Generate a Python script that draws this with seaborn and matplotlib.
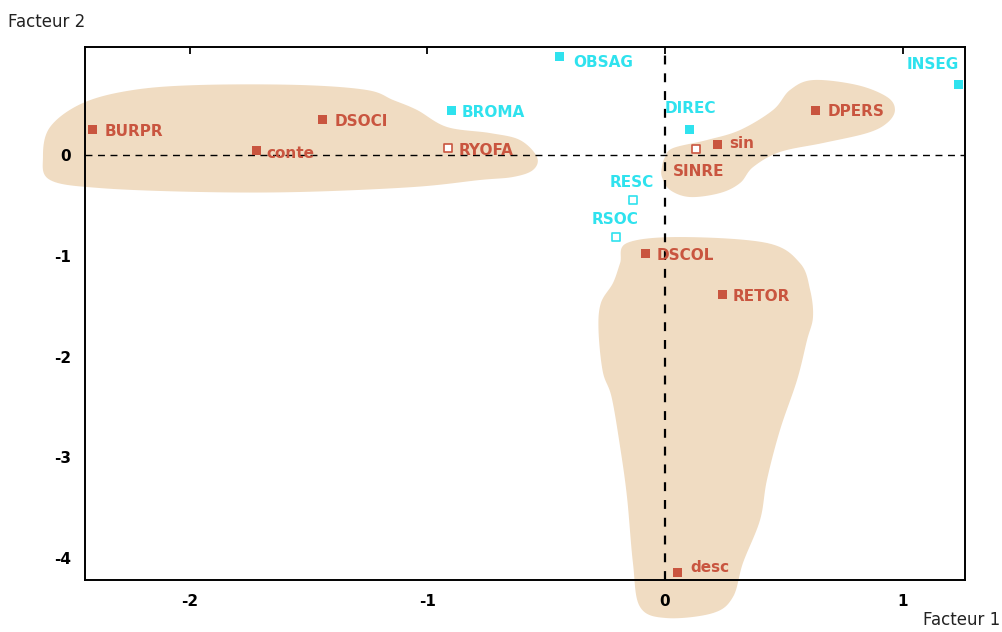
import numpy as np
import pandas as pd
import matplotlib
matplotlib.use("Agg")
import matplotlib.pyplot as plt
from matplotlib.patches import Polygon
import seaborn as sns

# Factor map coordinates of the modalities
names = ["BURPR", "DSOCI", "conte", "RYOFA", "BROMA", "OBSAG", "DIREC", "SINRE",
         "sin", "DPERS", "INSEG", "RESC", "RSOC", "DSCOL", "RETOR", "desc"]
facteur1 = [-2.41, -1.44, -1.72, -0.914, -0.897, -0.446, 0.101, 0.131,
            0.223, 0.632, 1.234, -0.135, -0.206, -0.084, 0.244, 0.051]
facteur2 = [0.258, 0.357, 0.040, 0.069, 0.437, 0.973, 0.258, 0.060,
            0.109, 0.437, 0.695, -0.447, -0.814, -0.973, -1.380, -4.139]
groupe = ["actif", "actif", "actif", "actif", "suppl", "suppl", "suppl", "actif",
          "actif", "actif", "suppl", "suppl", "suppl", "actif", "actif", "actif"]
plein = [True, True, True, False, True, True, True, False,
         True, True, True, False, False, True, True, True]

# Outlines of the three groupings (factor coordinates)
zone_gauche = [(-2.619, -0.020), (-2.589, 0.278), (-2.451, 0.516), (-2.240, 0.645),
               (-1.958, 0.695), (-1.537, 0.695), (-1.255, 0.645), (-1.145, 0.546),
               (-1.044, 0.447), (-0.918, 0.278), (-0.737, 0.218), (-0.611, 0.149),
               (-0.539, -0.020), (-0.556, -0.149), (-0.640, -0.218), (-0.779, -0.248),
               (-1.061, -0.318), (-1.537, -0.367), (-1.958, -0.367), (-2.379, -0.328),
               (-2.589, -0.248)]
zone_droite = [(-0.013, -0.119), (0.0, -0.020), (0.034, 0.069), (0.177, 0.149),
               (0.316, 0.248), (0.455, 0.447), (0.526, 0.645), (0.623, 0.744),
               (0.808, 0.695), (0.935, 0.576), (0.968, 0.447), (0.935, 0.318),
               (0.851, 0.218), (0.665, 0.119), (0.484, 0.030), (0.371, -0.119),
               (0.316, -0.278), (0.232, -0.377), (0.105, -0.417), (0.021, -0.347),
               (-0.013, -0.218)]
zone_bas = [(-0.160, -0.873), (0.063, -0.814), (0.429, -0.873), (0.568, -1.072),
            (0.611, -1.340), (0.623, -1.608), (0.598, -1.836), (0.556, -2.233),
            (0.484, -2.730), (0.429, -3.226), (0.400, -3.623), (0.328, -4.050),
            (0.286, -4.387), (0.202, -4.546), (0.008, -4.596), (-0.105, -4.486),
            (-0.135, -4.050), (-0.160, -3.395), (-0.189, -2.898), (-0.225, -2.402),
            (-0.262, -2.150), (-0.280, -1.737), (-0.270, -1.469), (-0.219, -1.270),
            (-0.189, -1.072)]

xticks = [-2, -1, 0, 1]
yticks = [0, -1, -2, -3, -4]

ROUGE = "#C9553F"
CYAN = "#2FE2EE"
SABLE = "#F0DCC2"

# label placement: (dx, dy) in pixels, horizontal alignment
placement = {
    "BURPR": (12, -2, "left"), "DSOCI": (12, -2, "left"), "conte": (10, -3, "left"),
    "RYOFA": (11, -2, "left"), "BROMA": (10, -2, "left"), "OBSAG": (14, -6, "left"),
    "DIREC": (-24, 21, "left"), "sin": (11, 1, "left"), "SINRE": (2, -23, "center"),
    "DPERS": (12, -1, "left"), "INSEG": (1, 20, "right"), "RESC": (-1, 18, "center"),
    "RSOC": (-1, 18, "center"), "DSCOL": (12, -2, "left"), "RETOR": (10, -2, "left"),
    "desc": (13, 5, "left"),
}

df = pd.DataFrame({"nom": names, "f1": facteur1, "f2": facteur2,
                   "groupe": groupe, "plein": plein})

sns.set_style("white")
plt.rcParams["font.family"] = ["DejaVu Sans"]

fig = plt.figure(figsize=(10.02, 6.32), dpi=100)
ax = fig.add_axes([85 / 1002, 1 - 580 / 632, 880 / 1002, 533 / 632])


def lisse(points, n=12):
    """Closed Catmull-Rom curve through the outline points."""
    p = np.asarray(points, dtype=float)
    m = len(p)
    out = []
    for i in range(m):
        p0, p1, p2, p3 = p[i - 1], p[i], p[(i + 1) % m], p[(i + 2) % m]
        for t in np.linspace(0, 1, n, endpoint=False):
            t2, t3 = t * t, t * t * t
            out.append(0.5 * ((2 * p1) + (-p0 + p2) * t
                              + (2 * p0 - 5 * p1 + 4 * p2 - p3) * t2
                              + (-p0 + 3 * p1 - 3 * p2 + p3) * t3))
    return np.array(out)


for zone in (zone_gauche, zone_droite, zone_bas):
    ax.add_patch(Polygon(lisse(zone), closed=True, facecolor=SABLE, edgecolor="none",
                         zorder=0.5, clip_on=False))

ax.axhline(0, color="black", lw=1.0, ls=(0, (5, 4)), zorder=1)
ax.axvline(0, color="black", lw=1.6, ls=(0, (4, 4)), zorder=1)

palette = {"actif": ROUGE, "suppl": CYAN}
sns.scatterplot(data=df[df.plein], x="f1", y="f2", hue="groupe", palette=palette,
                marker="s", s=42, linewidth=0, legend=False, ax=ax, zorder=3)
for g, col in palette.items():
    sub = df[(~df.plein) & (df.groupe == g)]
    sns.scatterplot(data=sub, x="f1", y="f2", marker="s", s=34, facecolor="white",
                    edgecolor=col, linewidth=1.2, legend=False, ax=ax, zorder=3)

for _, r in df.iterrows():
    dx, dy, ha = placement[r.nom]
    ax.annotate(r.nom, (r.f1, r.f2), xytext=(dx, dy), textcoords="offset pixels",
                ha=ha, va="center", fontsize=11, fontweight="bold",
                color=palette[r.groupe], zorder=4)

ax.set_xlim(-2.442, 1.263)
ax.set_ylim(-4.218, 1.072)
ax.set_xticks(xticks)
ax.set_yticks(yticks)
ax.set_xticklabels([str(v) for v in xticks], fontweight="bold", fontsize=11)
ax.set_yticklabels([str(v) for v in yticks], fontweight="bold", fontsize=11)
ax.tick_params(direction="in", length=5, width=1.3, top=True, pad=10,
               colors="black")
ax.set_xlabel("")
ax.set_ylabel("")
for sp in ax.spines.values():
    sp.set_color("black")
    sp.set_linewidth(1.4)
    sp.set_zorder(2)

fig.text(8 / 1002, 1 - 22 / 632, "Facteur 2", fontsize=12, ha="left", va="center",
         color="#222222")
fig.text(1000 / 1002, 1 - 620 / 632, "Facteur 1", fontsize=12, ha="right",
         va="center", color="#222222")

fig.savefig("out.png", dpi=100)
